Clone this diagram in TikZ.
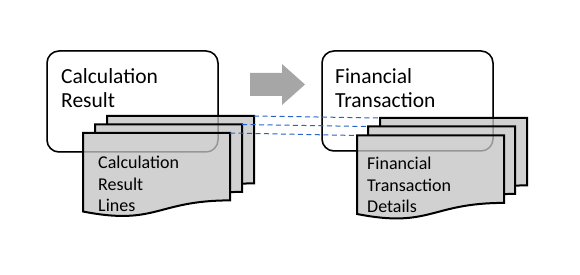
\documentclass[tikz,border=0pt]{standalone}
\usepackage{fontspec}
\setmainfont{Carlito}
\definecolor{docgray}{RGB}{209,209,209}
\definecolor{arrowgray}{RGB}{166,166,166}
\definecolor{linkblue}{RGB}{40,100,200}
\newcommand\mydocpage[3]{%
  \begin{scope}[shift={(#2,#3)}]
    \draw[docpage] (0,0) coordinate (#1-tl) -- (147,0) coordinate (#1-tr)
      -- (147,67.4) .. controls (73.5,67.4) and (73.5,93) .. (0,78.5) -- cycle;
  \end{scope}}
\begin{document}
\begin{tikzpicture}[x=1pt,y=-1pt,
  box/.style={draw=black, line width=1.5pt, rounded corners=12pt, fill=white},
  boxghost/.style={draw=black, draw opacity=0.28, line width=1.5pt, rounded corners=12pt},
  docpage/.style={draw=black, line width=2pt, fill=docgray, line join=miter},
  blockarrow/.style={fill=arrowgray, draw=none},
  link/.style={draw=linkblue, line width=1pt, dash pattern=on 5pt off 3.5pt},
  title/.style={anchor=north west, inner sep=0pt, align=left, font=\fontsize{21.5}{24.5}\selectfont},
  doctext/.style={anchor=north west, inner sep=0pt, align=left, font=\fontsize{18}{21.5}\selectfont}]
\useasboundingbox (0,0) rectangle (580,275);
% boxes
\draw[box] (47,51) rectangle (218,152);
\draw[box] (322,51) rectangle (493,151);
% block arrow
\fill[blockarrow] (250,73) -- (282,73) -- (282,64) -- (305,84.5) -- (282,105) -- (282,96) -- (250,96) -- cycle;
% left documents
\mydocpage{lb}{107}{116}
\mydocpage{lm}{95}{124.5}
\mydocpage{lf}{83}{133}
% right documents
\mydocpage{rb}{380}{118}
\mydocpage{rm}{368}{126.5}
\mydocpage{rf}{357}{135.5}
% box outlines seen through the pages
\draw[boxghost] (47,51) rectangle (218,152);
\draw[boxghost] (322,51) rectangle (493,151);
% dashed links
\draw[link] (lb-tr) -- (rb-tl);
\draw[link] (lm-tr) -- (rm-tl);
\draw[link] (lf-tr) -- (rf-tl);
% texts
\node[title] (calctitle) at (61,68) {Calculation\\Result};
\node[title] (fintitle) at (335,68) {Financial\\Transaction};
\node[doctext] (calclines) at (98,156) {Calculation\\Result\\Lines};
\node[doctext] (findetails) at (367,157) {Financial\\Transaction\\Details};
\end{tikzpicture}
\end{document}
